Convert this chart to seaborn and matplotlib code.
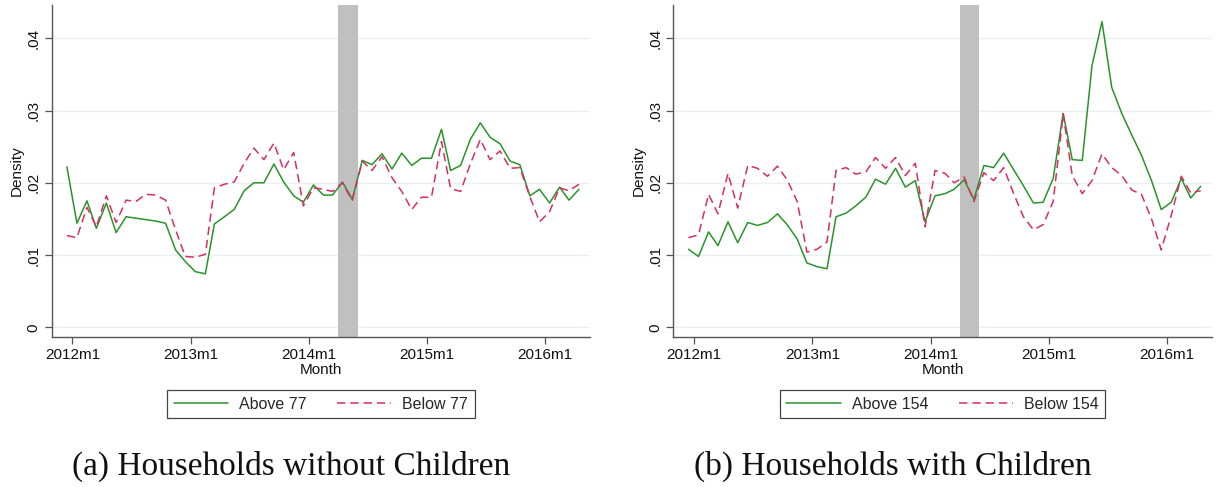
import matplotlib
matplotlib.use("Agg")
import matplotlib.pyplot as plt
import numpy as np
import pandas as pd
import seaborn as sns

# Monthly densities, 2011m12 .. 2016m4 (53 months)
months = pd.date_range("2011-12-01", periods=53, freq="MS")

no_kids_above = [0.0222, 0.0144, 0.0175, 0.0137, 0.0172, 0.0131, 0.0153, 0.0151, 0.0149, 0.0147,
                 0.0144, 0.0107, 0.0091, 0.0077, 0.0074, 0.0143, 0.0153, 0.0163, 0.0189, 0.0200,
                 0.0200, 0.0226, 0.0201, 0.0182, 0.0173, 0.0197, 0.0183, 0.0183, 0.0201, 0.0177,
                 0.0231, 0.0225, 0.0240, 0.0219, 0.0241, 0.0224, 0.0234, 0.0234, 0.0274, 0.0217,
                 0.0224, 0.0260, 0.0283, 0.0263, 0.0254, 0.0230, 0.0225, 0.0182, 0.0191, 0.0172,
                 0.0194, 0.0176, 0.0191]
no_kids_below = [0.0127, 0.0124, 0.0166, 0.0139, 0.0182, 0.0145, 0.0176, 0.0174, 0.0184, 0.0183,
                 0.0176, 0.0135, 0.0098, 0.0097, 0.0101, 0.0193, 0.0198, 0.0201, 0.0227, 0.0248,
                 0.0232, 0.0255, 0.0218, 0.0242, 0.0168, 0.0193, 0.0191, 0.0188, 0.0200, 0.0175,
                 0.0230, 0.0217, 0.0236, 0.0207, 0.0188, 0.0163, 0.0180, 0.0180, 0.0257, 0.0192,
                 0.0188, 0.0226, 0.0260, 0.0232, 0.0244, 0.0220, 0.0221, 0.0181, 0.0146, 0.0160,
                 0.0193, 0.0189, 0.0198]
kids_above = [0.0108, 0.0098, 0.0132, 0.0113, 0.0146, 0.0117, 0.0145, 0.0141, 0.0145, 0.0157,
              0.0142, 0.0122, 0.0089, 0.0084, 0.0081, 0.0153, 0.0158, 0.0168, 0.0180, 0.0205,
              0.0198, 0.0220, 0.0194, 0.0203, 0.0146, 0.0182, 0.0185, 0.0191, 0.0204, 0.0177,
              0.0224, 0.0221, 0.0241, 0.0218, 0.0196, 0.0172, 0.0173, 0.0206, 0.0296, 0.0232,
              0.0231, 0.0362, 0.0423, 0.0332, 0.0296, 0.0266, 0.0238, 0.0203, 0.0163, 0.0173,
              0.0206, 0.0179, 0.0195]
kids_below = [0.0124, 0.0128, 0.0184, 0.0157, 0.0213, 0.0165, 0.0224, 0.0220, 0.0209, 0.0223,
              0.0204, 0.0174, 0.0104, 0.0108, 0.0118, 0.0217, 0.0221, 0.0212, 0.0215, 0.0235,
              0.0220, 0.0235, 0.0210, 0.0227, 0.0139, 0.0217, 0.0213, 0.0200, 0.0208, 0.0174,
              0.0214, 0.0203, 0.0221, 0.0185, 0.0153, 0.0135, 0.0142, 0.0174, 0.0295, 0.0210,
              0.0185, 0.0203, 0.0240, 0.0221, 0.0210, 0.0190, 0.0184, 0.0150, 0.0107, 0.0155,
              0.0209, 0.0186, 0.0189]

tick_years = [2012, 2013, 2014, 2015, 2016]
tick_labels = ["2012m1", "2013m1", "2014m1", "2015m1", "2016m1"]
y_ticks = [0, 0.01, 0.02, 0.03, 0.04]
y_tick_labels = ["0", ".01", ".02", ".03", ".04"]

panels = [
    ("Above 77", "Below 77", no_kids_above, no_kids_below, "(a) Households without Children"),
    ("Above 154", "Below 154", kids_above, kids_below, "(b) Households with Children"),
]

sns.set_theme(style="white")
plt.rcParams["font.family"] = ["Liberation Sans", "DejaVu Sans"]

GREEN = "#2b932b"
RED = "#d62f5f"
AXIS = "#555555"

W, H = 1222, 487
fig = plt.figure(figsize=(W / 100, H / 100), dpi=100)
fig.patch.set_facecolor("white")

ax_boxes = [(51.7, 590.0), (673.3, 1211.7)]
caption_x = [291, 893]
top_px, bottom_px = 5.0, 336.7

# Data points sit mid-month; ticks mark the first of the month
x_dates = months + pd.Timedelta(days=14)

for (left_px, right_px), (lab_a, lab_b, above, below, caption), cx in zip(ax_boxes, panels, caption_x):
    ax = fig.add_axes([left_px / W, (H - bottom_px) / H,
                       (right_px - left_px) / W, (bottom_px - top_px) / H])
    df = pd.DataFrame({"month": x_dates, "above": above, "below": below})

    ax.axvspan(pd.Timestamp("2014-04-01"), pd.Timestamp("2014-06-01"),
               color="#c0c0c0", lw=0, zorder=1)
    for yv in y_ticks:
        ax.axhline(yv, color="#e9f0f3", lw=1.0, zorder=0)

    sns.lineplot(data=df, x="month", y="above", ax=ax, color=GREEN, lw=1.1,
                 label=lab_a, zorder=3)
    sns.lineplot(data=df, x="month", y="below", ax=ax, color=RED, lw=1.1,
                 label=lab_b, zorder=3, dashes=False)
    ax.lines[-1].set_dashes((5.5, 3.2))

    ax.set_xlim(pd.Timestamp("2011-10-29"), pd.Timestamp("2016-05-19"))
    ax.set_ylim(-0.0013, 0.0446)
    ax.set_xticks([pd.Timestamp(f"{y}-01-01") for y in tick_years])
    ax.set_xticklabels(tick_labels, fontsize=11, color="#111111")
    ax.set_yticks(y_ticks)
    ax.set_yticklabels(y_tick_labels, fontsize=11, color="#111111",
                       rotation=90, va="center")
    ax.tick_params(axis="both", which="major", length=5, width=0.9,
                   color=AXIS, direction="out", bottom=True, left=True, pad=3)
    ax.set_xlabel("Month", fontsize=11, labelpad=1, color="#111111")
    ax.set_ylabel("Density", fontsize=11, labelpad=2, color="#111111")
    ax.grid(False)
    for side in ("top", "right"):
        ax.spines[side].set_visible(False)
    for side in ("left", "bottom"):
        ax.spines[side].set_color(AXIS)
        ax.spines[side].set_linewidth(1.0)
    ax.set_facecolor("white")

    leg = ax.legend(loc="upper center", bbox_to_anchor=(0.5, -0.137), ncol=2,
                    fontsize=11.5, frameon=True, fancybox=False, framealpha=1,
                    edgecolor="#444444", borderpad=0.4, handlelength=3.4,
                    handletextpad=0.7, columnspacing=1.9)
    leg.get_frame().set_linewidth(0.9)

    fig.text(cx / W, 1 - 466 / H, caption, ha="center", va="center",
             fontsize=24, family=["Liberation Serif", "DejaVu Serif"], color="#111111")

fig.savefig("out.png", dpi=100, facecolor="white")
